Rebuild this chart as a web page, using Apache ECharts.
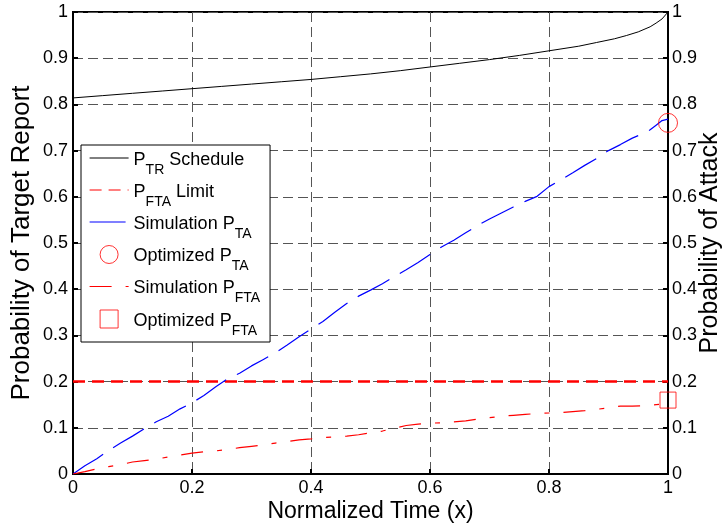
<!DOCTYPE html>
<html><head><meta charset="utf-8">
<script src="https://cdn.jsdelivr.net/npm/echarts@6/dist/echarts.min.js"></script>
<style>html,body{margin:0;padding:0;background:#fff}#c{width:728px;height:529px}</style>
</head><body><div id="c"></div>
<script>
// ---- data ----
const scheduleX = [0, 0.05, 0.1, 0.15, 0.2, 0.25, 0.3, 0.35, 0.4, 0.45, 0.5, 0.55, 0.6, 0.65, 0.7, 0.75, 0.8, 0.85, 0.88, 0.91, 0.93, 0.95, 0.97, 0.98, 0.99, 1.0];
const scheduleY = [0.814, 0.819, 0.824, 0.829, 0.834, 0.839, 0.844, 0.849, 0.854, 0.860, 0.866, 0.873, 0.881, 0.889, 0.897, 0.906, 0.916, 0.926, 0.934, 0.942, 0.949, 0.957, 0.968, 0.976, 0.985, 1.0];

const limitX = [0, 1];
const limitY = [0.2, 0.2];

const simTaX = [0, 0.02, 0.04, 0.06, 0.08, 0.10, 0.12, 0.14, 0.16, 0.18, 0.20, 0.22, 0.24, 0.26, 0.28, 0.30, 0.32, 0.34, 0.36, 0.38, 0.40, 0.42, 0.44, 0.46, 0.48, 0.50, 0.52, 0.54, 0.56, 0.58, 0.60, 0.62, 0.64, 0.66, 0.68, 0.70, 0.72, 0.74, 0.76, 0.78, 0.80, 0.82, 0.84, 0.86, 0.88, 0.90, 0.92, 0.94, 0.96, 0.97, 0.98, 0.99, 1.00];
const simTaY = [0.000, 0.018, 0.033, 0.051, 0.067, 0.082, 0.098, 0.113, 0.125, 0.141, 0.154, 0.170, 0.189, 0.206, 0.218, 0.234, 0.248, 0.262, 0.279, 0.297, 0.314, 0.330, 0.350, 0.369, 0.385, 0.398, 0.412, 0.427, 0.442, 0.458, 0.475, 0.492, 0.506, 0.522, 0.538, 0.552, 0.565, 0.578, 0.590, 0.601, 0.622, 0.637, 0.652, 0.668, 0.683, 0.700, 0.713, 0.727, 0.738, 0.745, 0.755, 0.765, 0.768];

const simFtaX = [0, 0.02, 0.04, 0.06, 0.08, 0.10, 0.12, 0.14, 0.16, 0.18, 0.20, 0.22, 0.24, 0.26, 0.28, 0.30, 0.32, 0.34, 0.36, 0.38, 0.40, 0.42, 0.44, 0.46, 0.48, 0.50, 0.52, 0.54, 0.56, 0.58, 0.60, 0.62, 0.64, 0.66, 0.68, 0.70, 0.72, 0.74, 0.76, 0.78, 0.80, 0.82, 0.84, 0.86, 0.88, 0.90, 0.92, 0.94, 0.96, 0.98, 1.00];
const simFtaY = [0.000, 0.005, 0.011, 0.016, 0.020, 0.026, 0.029, 0.032, 0.037, 0.041, 0.045, 0.048, 0.050, 0.053, 0.057, 0.060, 0.063, 0.067, 0.070, 0.074, 0.076, 0.079, 0.080, 0.082, 0.085, 0.089, 0.093, 0.099, 0.105, 0.108, 0.110, 0.111, 0.113, 0.115, 0.119, 0.122, 0.125, 0.127, 0.129, 0.131, 0.132, 0.133, 0.135, 0.137, 0.140, 0.143, 0.147, 0.147, 0.148, 0.150, 0.152];

const optTaPoint = [1, 0.76];
const optFtaPoint = [1, 0.16];

const seriesNames = ['P_TR Schedule', 'P_FTA Limit', 'Simulation P_TA', 'Optimized P_TA', 'Simulation P_FTA', 'Optimized P_FTA'];
const legendRich = {
  'P_TR Schedule': '{m|P}{s|TR}{m| Schedule}',
  'P_FTA Limit': '{m|P}{s|FTA}{m| Limit}',
  'Simulation P_TA': '{m|Simulation P}{s|TA}',
  'Optimized P_TA': '{m|Optimized P}{s|TA}',
  'Simulation P_FTA': '{m|Simulation P}{s|FTA}',
  'Optimized P_FTA': '{m|Optimized P}{s|FTA}'
};

const axisMin = 0, axisMax = 1, yInterval = 0.1, xInterval = 0.2;

// ---- chart ----
const FONT = 'Liberation Sans, Arial, sans-serif';
const zip = (xs, ys) => xs.map((x, i) => [x, ys[i]]);
const chart = echarts.init(document.getElementById('c'), null, {renderer: 'canvas'});

const gridLine = {show: true, lineStyle: {color: '#555', width: 1, type: [10, 5]}};
const axisLine = {show: true, onZero: false, lineStyle: {color: '#000', width: 2}};
const axisTick = {show: true, inside: true, length: 5, lineStyle: {color: '#000', width: 2}};
const axisLabel = {color: '#000', fontSize: 18, fontFamily: FONT};
const noSym = {color: 'rgba(0,0,0,0)', borderWidth: 0};

chart.setOption({
  animation: false,
  backgroundColor: '#fff',
  grid: {left: 73, right: 60, top: 12, bottom: 55, show: true, borderColor: '#000', borderWidth: 2,
         backgroundColor: '#fff', containLabel: false, outerBoundsMode: 'none'},
  xAxis: {
    type: 'value', min: axisMin, max: axisMax, interval: xInterval,
    name: 'Normalized Time (x)', nameLocation: 'middle', nameGap: 26, nameMoveOverlap: false,
    nameTextStyle: {color: '#000', fontSize: 23, fontFamily: FONT},
    axisLine, axisTick, splitLine: gridLine,
    axisLabel: Object.assign({margin: 5}, axisLabel)
  },
  yAxis: [{
    type: 'value', min: axisMin, max: axisMax, interval: yInterval, position: 'left',
    name: 'Probability of Target Report', nameLocation: 'middle', nameGap: 38, nameMoveOverlap: false,
    nameTextStyle: {color: '#000', fontSize: 26, fontFamily: FONT},
    axisLine, axisTick, splitLine: gridLine,
    axisLabel: Object.assign({margin: 5}, axisLabel)
  }, {
    type: 'value', min: axisMin, max: axisMax, interval: yInterval, position: 'right',
    name: 'Probability of Attack', nameLocation: 'middle', nameGap: 30, nameMoveOverlap: false,
    nameTextStyle: {color: '#000', fontSize: 25, fontFamily: FONT},
    axisLine, axisTick, splitLine: {show: false},
    axisLabel: Object.assign({margin: 4}, axisLabel)
  }],
  legend: {
    orient: 'vertical', left: 81, top: 145,
    padding: [4, 10, 4, 8],
    itemWidth: 39, itemHeight: 18, itemGap: 4,
    backgroundColor: '#fff', borderColor: '#000', borderWidth: 1, borderRadius: 0,
    selectedMode: false,
    itemStyle: {borderWidth: 1},
    lineStyle: {width: 'inherit'},
    data: [
      {name: seriesNames[0], itemStyle: noSym},
      {name: seriesNames[1], itemStyle: noSym, lineStyle: {width: 1}},
      {name: seriesNames[2], itemStyle: noSym},
      {name: seriesNames[3]},
      {name: seriesNames[4], itemStyle: noSym},
      {name: seriesNames[5]}
    ],
    formatter: n => legendRich[n],
    textStyle: {
      color: '#000', fontFamily: FONT,
      rich: {
        m: {fontSize: 18, fontFamily: FONT, color: '#000', lineHeight: 18, padding: [2, 0, 0, 0], verticalAlign: 'top'},
        s: {fontSize: 14, fontFamily: FONT, color: '#000', lineHeight: 14, padding: [14, 0, 0, 0], verticalAlign: 'top'}
      }
    }
  },
  series: [
    {name: seriesNames[0], type: 'line', data: zip(scheduleX, scheduleY), symbol: 'none', color: '#000',
     lineStyle: {color: '#000', width: 1}, z: 3},
    {name: seriesNames[1], type: 'line', data: zip(limitX, limitY), symbol: 'none', color: '#ff0000',
     lineStyle: {color: '#ff0000', width: 2.5, type: [12, 7]}, z: 3},
    {name: seriesNames[2], type: 'line', data: zip(simTaX, simTaY), symbol: 'none', color: '#0000ff',
     lineStyle: {color: '#0000ff', width: 1.2, type: [36, 12]}, z: 3},
    {name: seriesNames[3], type: 'scatter', data: [optTaPoint], symbol: 'circle', symbolSize: 19, clip: false,
     itemStyle: {color: 'rgba(0,0,0,0)', borderColor: '#ff0000', borderWidth: 1}, z: 10},
    {name: seriesNames[4], type: 'line', data: zip(simFtaX, simFtaY), symbol: 'none', color: '#ff0000',
     lineStyle: {color: '#ff0000', width: 1.2, type: [22, 14, 5, 14]}, z: 3},
    {name: seriesNames[5], type: 'scatter', data: [optFtaPoint], symbol: 'path://M0,0L10,0L10,10L0,10Z', symbolKeepAspect: true, symbolSize: 16, clip: false,
     itemStyle: {color: 'rgba(0,0,0,0)', borderColor: '#ff0000', borderWidth: 1}, z: 10}
  ]
});
</script>
</body></html>
